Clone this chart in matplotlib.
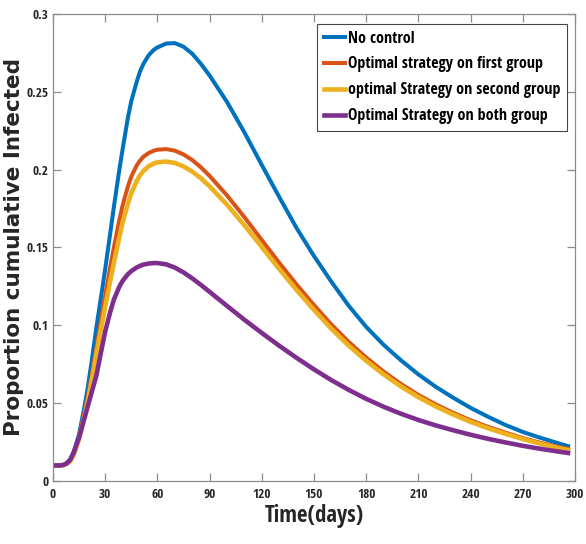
import matplotlib
matplotlib.use('Agg')
import matplotlib.pyplot as plt
from matplotlib.ticker import FuncFormatter

# time grid (days)
days = [0, 4, 6, 8, 10, 12, 15, 18, 20, 22, 25, 28, 30, 33, 35, 38, 40, 43, 45, 48,
        50, 52, 55, 58, 60, 65, 70, 75, 80, 85, 90, 100, 110, 120, 130, 140, 150,
        160, 170, 180, 190, 200, 210, 220, 230, 240, 250, 260, 270, 280, 290, 296]

no_control = [0.010, 0.010, 0.0103, 0.0115, 0.014, 0.019, 0.030, 0.047, 0.060, 0.075,
              0.099, 0.121, 0.136, 0.160, 0.176, 0.199, 0.213, 0.233, 0.244, 0.256,
              0.263, 0.268, 0.2735, 0.277, 0.2785, 0.281, 0.2813, 0.279, 0.2745, 0.268,
              0.2605, 0.2435, 0.224, 0.203, 0.1825, 0.1625, 0.1445, 0.128, 0.1125, 0.099,
              0.0875, 0.0775, 0.0685, 0.0605, 0.0535, 0.047, 0.0413, 0.036, 0.0315,
              0.0278, 0.0244, 0.0224]

first_group = [0.010, 0.010, 0.0103, 0.0113, 0.013, 0.0175, 0.028, 0.043, 0.054, 0.066,
               0.086, 0.106, 0.119, 0.138, 0.150, 0.167, 0.177, 0.189, 0.1955, 0.2025,
               0.2058, 0.2083, 0.2107, 0.2122, 0.2128, 0.2132, 0.2122, 0.2098, 0.2062,
               0.2015, 0.196, 0.1835, 0.1695, 0.1548, 0.1402, 0.1262, 0.113, 0.1005,
               0.0893, 0.0793, 0.0703, 0.0623, 0.0553, 0.0492, 0.0438, 0.039, 0.0348,
               0.0311, 0.0276, 0.0246, 0.0220, 0.0206]

second_group = [0.010, 0.010, 0.0103, 0.0112, 0.0128, 0.017, 0.027, 0.041, 0.051, 0.063,
                0.082, 0.100, 0.112, 0.129, 0.140, 0.156, 0.166, 0.178, 0.1848, 0.1925,
                0.1963, 0.1992, 0.2022, 0.204, 0.2047, 0.2052, 0.2043, 0.2021, 0.1988,
                0.1945, 0.1893, 0.1775, 0.1643, 0.1503, 0.1362, 0.1227, 0.1099, 0.0978,
                0.0869, 0.0772, 0.0685, 0.0607, 0.0539, 0.0479, 0.0427, 0.038, 0.0339,
                0.0303, 0.0270, 0.0240, 0.0213, 0.0199]

both_groups = [0.010, 0.010, 0.0103, 0.0114, 0.0138, 0.0185, 0.028, 0.040, 0.048, 0.056,
               0.068, 0.085, 0.096, 0.109, 0.1165, 0.1245, 0.1285, 0.1328, 0.1348, 0.1371,
               0.1382, 0.139, 0.1397, 0.140, 0.140, 0.1392, 0.1371, 0.134, 0.1302, 0.126,
               0.1215, 0.1125, 0.1036, 0.0951, 0.0869, 0.0791, 0.0717, 0.0648, 0.0585,
               0.0528, 0.0477, 0.0432, 0.0392, 0.0357, 0.0326, 0.0297, 0.0271, 0.0248,
               0.0226, 0.0207, 0.019, 0.018]

labels = ['No control', 'Optimal strategy on first group',
          'optimal Strategy on second group', 'Optimal Strategy on both group']

narrow = ['Open Sans Condensed', 'DejaVu Sans']

fig = plt.figure(figsize=(5.86, 5.44), dpi=100)
ax = fig.add_axes([0.0904, 0.1158, 0.8908, 0.8585])

ax.plot(days, no_control, color='#0072BD', lw=2.9, label=labels[0])
ax.plot(days, first_group, color='#D95319', lw=2.9, label=labels[1])
ax.plot(days, second_group, color='#EDB120', lw=3.3, label=labels[2])
ax.plot(days, both_groups, color='#7E2F8E', lw=3.3, label=labels[3])

ax.set_xlim(0, 300)
ax.set_ylim(0, 0.3)
ax.set_xticks(range(0, 301, 30))
ax.set_yticks([0, 0.05, 0.1, 0.15, 0.2, 0.25, 0.3])
ax.yaxis.set_major_formatter(FuncFormatter(lambda v, p: '%g' % v))

for s in ax.spines.values():
    s.set_color('#8c8c8c')
    s.set_linewidth(0.9)
ax.tick_params(direction='in', length=6, width=0.9, color='#8c8c8c',
               top=True, right=True, labelcolor='#262626', pad=3)
ax.tick_params(axis='x', pad=5)
for t in ax.get_xticklabels() + ax.get_yticklabels():
    t.set_family(narrow)
    t.set_fontweight('bold')
    t.set_fontsize(9.5)

ax.set_xlabel('Time(days)', family=narrow, fontweight='bold', fontsize=16.5,
              color='#262626', labelpad=2)
ax.set_ylabel('Proportion cumulative Infected', family='DejaVu Sans',
              fontweight='bold', fontsize=15.5, color='#262626')
ax.yaxis.set_label_coords(-0.056, 0.5)

leg = ax.legend(loc='upper right', bbox_to_anchor=(0.99, 0.985), fancybox=False,
                prop={'family': narrow, 'weight': 'bold', 'size': 11.5},
                handlelength=1.35, handletextpad=0.15, labelspacing=0.62,
                borderpad=0.4, borderaxespad=0.2, framealpha=1)
leg.get_frame().set_edgecolor('#444444')
leg.get_frame().set_linewidth(0.8)

fig.savefig('out.png', dpi=100)
